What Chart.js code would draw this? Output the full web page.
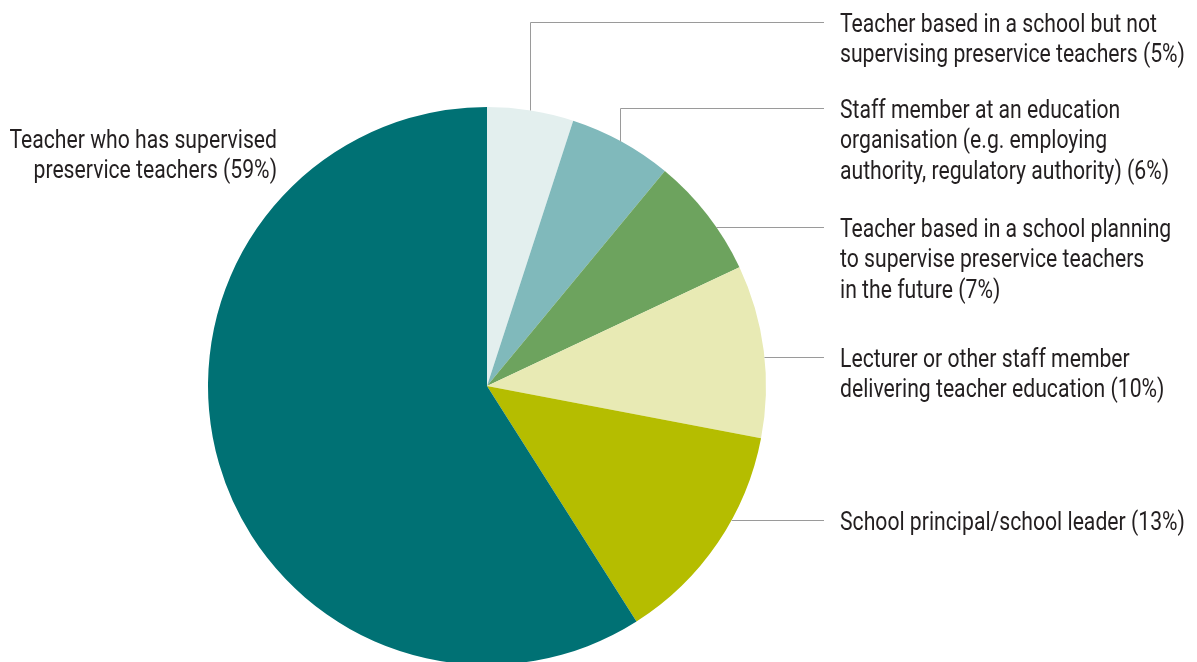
<!DOCTYPE html>
<html lang="en">
<head>
  <meta charset="UTF-8">
  <title>Survey respondents by role</title>
  <style>
    body { margin: 0; background: #ffffff; overflow: hidden; }
    #wrap { position: relative; width: 1197px; height: 700px; }
  </style>
</head>
<body>
  <div id="wrap"><canvas id="pie" width="1197" height="700"></canvas></div>

  <script src="https://cdn.jsdelivr.net/npm/chart.js"></script>
  <script>
    // respondent roles, clockwise from 12 o'clock
    const roles = [
      ['Teacher based in a school but not', 'supervising preservice teachers (5%)'],
      ['Staff member at an education', 'organisation (e.g. employing', 'authority, regulatory authority) (6%)'],
      ['Teacher based in a school planning', 'to supervise preservice teachers', 'in the future (7%)'],
      ['Lecturer or other staff member', 'delivering teacher education (10%)'],
      ['School principal/school leader (13%)'],
      ['Teacher who has supervised', 'preservice teachers (59%)']
    ];
    const shares = [5, 6, 7, 10, 13, 59];
    const sliceColors = ['#e3efee', '#80b9bb', '#6da35e', '#e8eab4', '#b5bd00', '#007174'];

    // label placement: first-line y, and how the leader leaves the slice
    const labelY = [22, 108, 227, 357, 520, 138];
    const leaderKind = ['elbow', 'elbow', 'flat', 'flat', 'flat', 'none'];
    const TEXT_X = 840, LINE_END = 824, LINE_H = 30.5;
    const FONT = '26px Roboto, "DejaVu Sans Condensed", sans-serif';

    // condensed look: squeeze the type horizontally
    function drawLine(ctx, text, x, y, align, squeeze) {
      ctx.save();
      ctx.translate(x, y);
      ctx.scale(squeeze, 1);
      ctx.textAlign = align;
      ctx.fillText(text, 0, 0);
      ctx.restore();
    }

    const calloutPlugin = {
      id: 'callouts',
      afterDraw(chart) {
        const ctx = chart.ctx;
        const arcs = chart.getDatasetMeta(0).data;
        ctx.save();
        ctx.font = FONT;
        ctx.textBaseline = 'alphabetic';
        const squeeze = 317 / ctx.measureText(roles[0][0]).width;
        ctx.lineWidth = 1;
        ctx.strokeStyle = '#9a9a9a';

        arcs.forEach((arc, i) => {
          const { x, y, outerRadius, startAngle, endAngle } = arc.getProps(['x', 'y', 'outerRadius', 'startAngle', 'endAngle'], true);
          const ly = labelY[i];
          ctx.beginPath();
          if (leaderKind[i] === 'elbow') {
            const mid = (startAngle + endAngle) / 2;
            const px = x + outerRadius * Math.cos(mid);
            const py = y + outerRadius * Math.sin(mid);
            ctx.moveTo(Math.round(px) - 0.5, py);
            ctx.lineTo(Math.round(px) - 0.5, Math.round(ly) + 0.5);
            ctx.lineTo(LINE_END, Math.round(ly) + 0.5);
          } else if (leaderKind[i] === 'flat') {
            const dy = ly - y;
            const px = x + Math.sqrt(outerRadius * outerRadius - dy * dy);
            ctx.moveTo(px, Math.round(ly) + 0.5);
            ctx.lineTo(LINE_END, Math.round(ly) + 0.5);
          }
          ctx.stroke();

          ctx.fillStyle = '#231f20';
          const base = ly + 9.5;
          if (leaderKind[i] === 'none') {
            roles[i].forEach((t, k) => drawLine(ctx, t, 277, base + k * LINE_H, 'right', squeeze));
          } else {
            roles[i].forEach((t, k) => drawLine(ctx, t, TEXT_X, base + k * LINE_H, 'left', squeeze));
          }
        });
        ctx.restore();
      }
    };

    new Chart(document.getElementById('pie'), {
      type: 'pie',
      data: {
        labels: roles,
        datasets: [{
          data: shares,
          backgroundColor: sliceColors,
          borderWidth: 0
        }]
      },
      options: {
        responsive: false,
        animation: false,
        layout: { padding: { left: 208, right: 431, top: 107, bottom: 35 } },
        plugins: {
          legend: { display: false },
          tooltip: { enabled: false }
        }
      },
      plugins: [calloutPlugin]
    });
  </script>
</body>
</html>
